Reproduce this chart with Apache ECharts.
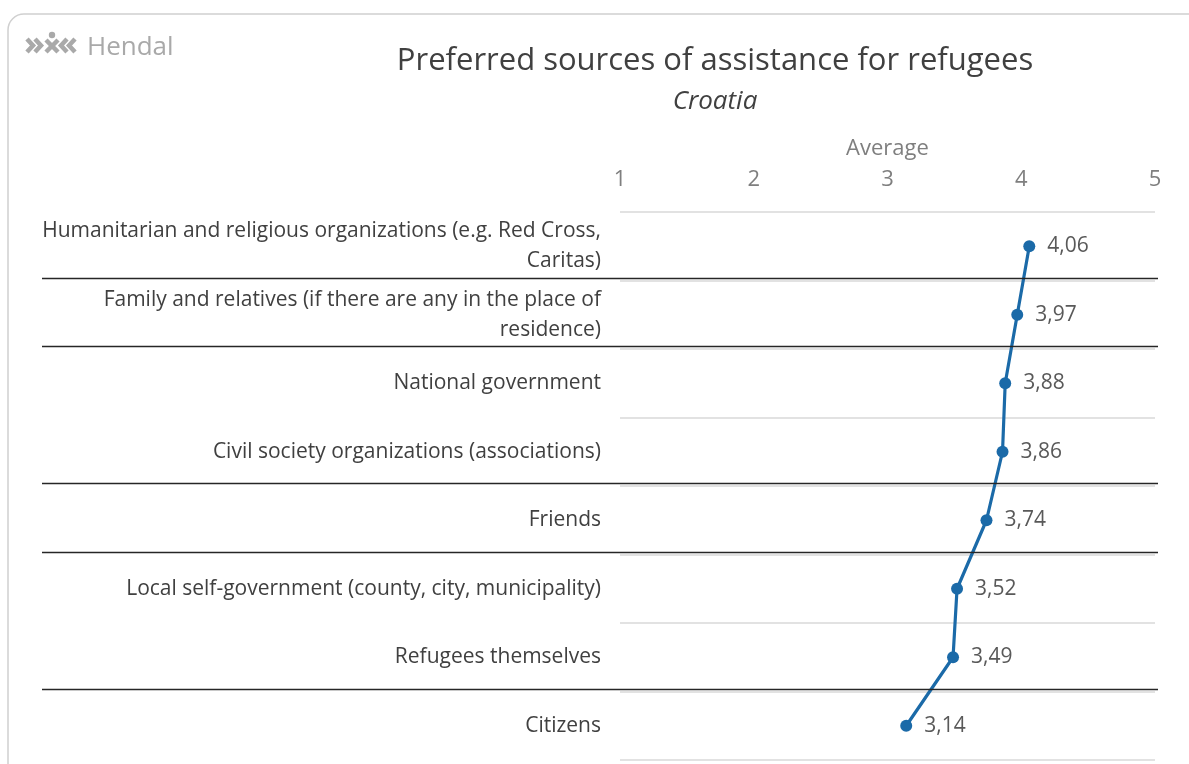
<!DOCTYPE html>
<html><head><meta charset="utf-8">
<script src="https://cdn.jsdelivr.net/npm/echarts@6/dist/echarts.min.js"></script>
<style>html,body{margin:0;padding:0;background:#fff}#c{width:1189px;height:764px}</style>
</head><body><div id="c"></div>
<script>
const titleText = 'Preferred sources of assistance for refugees';
const subtitleText = 'Croatia';
const axisName = 'Average';
const categories = [
  'Humanitarian and religious organizations (e.g. Red Cross,\nCaritas)',
  'Family and relatives (if there are any in the place of\nresidence)',
  'National government',
  'Civil society organizations (associations)',
  'Friends',
  'Local self-government (county, city, municipality)',
  'Refugees themselves',
  'Citizens'
];
const values = [4.06, 3.97, 3.88, 3.86, 3.74, 3.52, 3.49, 3.14];
const xMin = 1, xMax = 5, xStep = 1;
const separatorsAfter = [0, 1, 3, 4, 6];

const FONT = 'Open Sans';
const chart = echarts.init(document.getElementById('c'), null, {renderer: 'canvas'});

function logo() {
  const c = '#a9a9a9';
  const w = 4.5;
  const pl = pts => ({type: 'polyline', shape: {points: pts}, style: {stroke: c, lineWidth: w, fill: null, lineJoin: 'miter'}});
  return [
    pl([[27,39],[33,45.5],[27,52]]),
    pl([[35,39],[41,45.5],[35,52]]),
    pl([[46,40],[52,46],[58,40]]),
    pl([[46,52],[52,46],[58,52]]),
    {type: 'circle', shape: {cx: 52, cy: 35, r: 3.2}, style: {fill: c}},
    pl([[67,39],[61,45.5],[67,52]]),
    pl([[75,39],[69,45.5],[75,52]]),
    {type: 'text', left: 87, top: 35, style: {text: 'Hendal', fill: '#a9a9a9', font: '26px "Open Sans"'}}
  ];
}

const baseGraphic = [
  {type: 'rect', shape: {x: 8, y: 14, width: 1230, height: 800, r: 16}, style: {fill: null, stroke: '#d0d0d0', lineWidth: 1.5}, z: -1}
].concat(logo());

chart.setOption({
  animation: false,
  backgroundColor: '#fff',
  title: [
    {text: titleText, left: 710, top: 41, textAlign: 'center',
     textStyle: {fontFamily: FONT, fontSize: 31, fontWeight: 'normal', color: '#404040'}},
    {text: subtitleText, left: 710, top: 84, textAlign: 'center',
     textStyle: {fontFamily: FONT, fontSize: 26, fontWeight: 'normal', fontStyle: 'italic', color: '#404040'}}
  ],
  grid: {left: 620, right: 34, top: 212, bottom: 4, containLabel: false},
  xAxis: {
    type: 'value', position: 'top', min: xMin, max: xMax, interval: xStep,
    name: axisName, nameLocation: 'middle', nameGap: 52,
    nameTextStyle: {fontFamily: FONT, fontSize: 22, color: '#7f7f7f'},
    axisLine: {show: false}, axisTick: {show: false}, splitLine: {show: false},
    axisLabel: {fontFamily: FONT, fontSize: 22, color: '#7f7f7f', margin: 21}
  },
  yAxis: {
    type: 'category', inverse: true, data: categories,
    axisLine: {show: false}, axisTick: {show: false},
    splitLine: {show: true, lineStyle: {color: '#d9d9d9', width: 1.5}},
    axisLabel: {fontFamily: FONT, fontSize: 21, color: '#404040', margin: 19, align: 'right', lineHeight: 30}
  },
  series: [{
    type: 'line', data: values, symbol: 'circle', symbolSize: 12,
    lineStyle: {color: '#1b6aa8', width: 3.2}, itemStyle: {color: '#1b6aa8'},
    label: {show: true, position: 'right', distance: 12, fontFamily: FONT, fontSize: 21, color: '#595959',
      formatter: p => p.value.toFixed(2).replace('.', ',')}
  }],
  graphic: baseGraphic
});

const seps = separatorsAfter.map(i => {
  const y1 = chart.convertToPixel({yAxisIndex: 0}, i);
  const y2 = chart.convertToPixel({yAxisIndex: 0}, i + 1);
  const y = Math.round((y1 + y2) / 2) - 2.5;
  return {type: 'line', shape: {x1: 42, y1: y, x2: 1158, y2: y}, style: {stroke: '#262626', lineWidth: 1.5}, z: 5};
});
chart.setOption({graphic: baseGraphic.concat(seps)}, {replaceMerge: ['graphic']});
</script></body></html>
